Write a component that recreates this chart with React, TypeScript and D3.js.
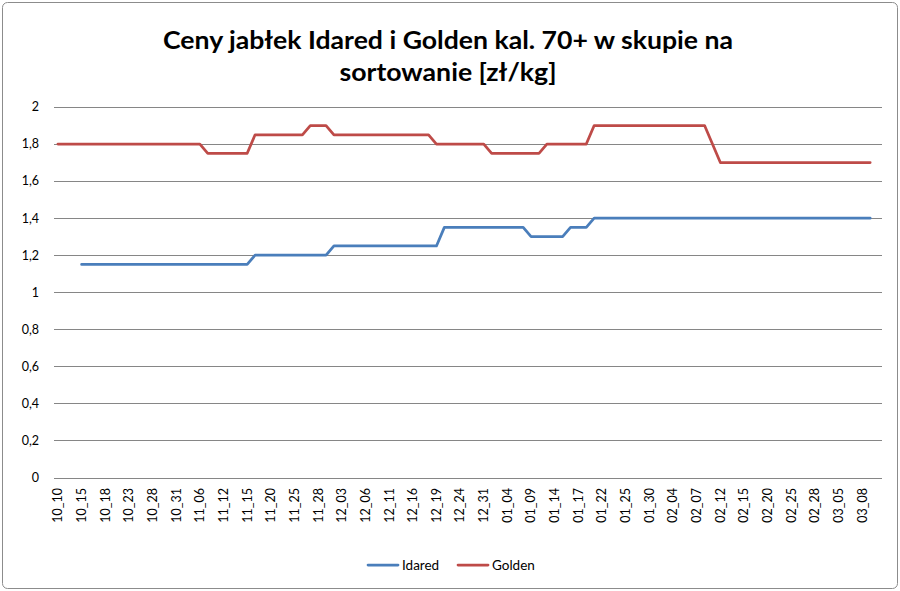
import * as d3 from 'd3';

// tick labels shown on the category axis (every 3rd category)
const tickLabels = [
  '10_10', '10_15', '10_18', '10_23', '10_28', '10_31', '11_06', '11_12', '11_15',
  '11_20', '11_25', '11_28', '12_03', '12_06', '12_11', '12_16', '12_19', '12_24',
  '12_31', '01_04', '01_09', '01_14', '01_17', '01_22', '01_25', '01_30', '02_04',
  '02_07', '02_12', '02_15', '02_20', '02_25', '02_28', '03_05', '03_08',
];
const labelStep = 3;
const categoryCount = 105;

const idared: (number | null)[] = [
  null, null, null, 1.15, 1.15, 1.15, 1.15, 1.15, 1.15, 1.15,
  1.15, 1.15, 1.15, 1.15, 1.15, 1.15, 1.15, 1.15, 1.15, 1.15,
  1.15, 1.15, 1.15, 1.15, 1.15, 1.2, 1.2, 1.2, 1.2, 1.2,
  1.2, 1.2, 1.2, 1.2, 1.2, 1.25, 1.25, 1.25, 1.25, 1.25,
  1.25, 1.25, 1.25, 1.25, 1.25, 1.25, 1.25, 1.25, 1.25, 1.35,
  1.35, 1.35, 1.35, 1.35, 1.35, 1.35, 1.35, 1.35, 1.35, 1.35,
  1.3, 1.3, 1.3, 1.3, 1.3, 1.35, 1.35, 1.35, 1.4, 1.4,
  1.4, 1.4, 1.4, 1.4, 1.4, 1.4, 1.4, 1.4, 1.4, 1.4,
  1.4, 1.4, 1.4, 1.4, 1.4, 1.4, 1.4, 1.4, 1.4, 1.4,
  1.4, 1.4, 1.4, 1.4, 1.4, 1.4, 1.4, 1.4, 1.4, 1.4,
  1.4, 1.4, 1.4, 1.4,
];

const golden: (number | null)[] = [
  1.8, 1.8, 1.8, 1.8, 1.8, 1.8, 1.8, 1.8, 1.8, 1.8,
  1.8, 1.8, 1.8, 1.8, 1.8, 1.8, 1.8, 1.8, 1.8, 1.75,
  1.75, 1.75, 1.75, 1.75, 1.75, 1.85, 1.85, 1.85, 1.85, 1.85,
  1.85, 1.85, 1.9, 1.9, 1.9, 1.85, 1.85, 1.85, 1.85, 1.85,
  1.85, 1.85, 1.85, 1.85, 1.85, 1.85, 1.85, 1.85, 1.8, 1.8,
  1.8, 1.8, 1.8, 1.8, 1.8, 1.75, 1.75, 1.75, 1.75, 1.75,
  1.75, 1.75, 1.8, 1.8, 1.8, 1.8, 1.8, 1.8, 1.9, 1.9,
  1.9, 1.9, 1.9, 1.9, 1.9, 1.9, 1.9, 1.9, 1.9, 1.9,
  1.9, 1.9, 1.9, 1.8, 1.7, 1.7, 1.7, 1.7, 1.7, 1.7,
  1.7, 1.7, 1.7, 1.7, 1.7, 1.7, 1.7, 1.7, 1.7, 1.7,
  1.7, 1.7, 1.7, 1.7,
];

const yTicks = [0, 0.2, 0.4, 0.6, 0.8, 1, 1.2, 1.4, 1.6, 1.8, 2];

const series = [
  { name: 'Idared', values: idared, color: '#4a7ebb' },
  { name: 'Golden', values: golden, color: '#be4b48' },
];

const W = 900;
const H = 591;
const font = 'Lato, "Open Sans", sans-serif';

export default function App() {
  const x = d3
    .scaleBand<number>()
    .domain(d3.range(categoryCount))
    .range([54, 882]);
  const cx = (i: number) => (x(i) ?? 0) + x.bandwidth() / 2;

  const y = d3.scaleLinear().domain([0, 2]).range([477.5, 107]);

  const line = d3
    .line<number | null>()
    .defined(d => d != null)
    .x((_, i) => cx(i))
    .y(d => y(d as number));

  const fmt = (v: number) => String(+v.toFixed(1)).replace('.', ',');

  return (
    <svg
      width={W}
      height={H}
      style={{ position: 'absolute', left: 0, top: 0, background: '#fff' }}
      fontFamily={font}
    >
      <rect x={2.5} y={2.5} width={895} height={586} rx={5} fill="#fff" stroke="#8c8c8c" />

      <text
        x={448}
        y={49}
        textAnchor="middle"
        fontSize={25}
        fontWeight="bold"
        fill="#000"
        textLength={570}
        lengthAdjust="spacingAndGlyphs"
      >
        Ceny jabłek Idared i Golden kal. 70+ w skupie na
      </text>
      <text
        x={448}
        y={81}
        textAnchor="middle"
        fontSize={25}
        fontWeight="bold"
        fill="#000"
        textLength={217}
        lengthAdjust="spacingAndGlyphs"
      >
        sortowanie [zł/kg]
      </text>

      {yTicks.map(t => (
        <g key={t}>
          <line x1={54} x2={882} y1={Math.round(y(t)) + 0.5} y2={Math.round(y(t)) + 0.5} stroke="#868686" />
          <text x={39} y={y(t)} dy="0.35em" textAnchor="end" fontSize={12.5} fill="#000">
            {fmt(t)}
          </text>
        </g>
      ))}

      {tickLabels.map((lab, k) => {
        const px = cx(k * labelStep);
        return (
          <text
            key={lab + k}
            transform={`translate(${px},488) rotate(-90)`}
            dy="0.35em"
            textAnchor="end"
            fontSize={12.5}
            fill="#000"
          >
            {lab}
          </text>
        );
      })}

      {series.map(s => (
        <path
          key={s.name}
          d={line(s.values) ?? ''}
          fill="none"
          stroke={s.color}
          strokeWidth={2.75}
          strokeLinejoin="round"
          strokeLinecap="round"
        />
      ))}

      {series.map((s, i) => {
        const lx = 368 + i * 90;
        return (
          <g key={s.name}>
            <line x1={lx} x2={lx + 30} y1={565} y2={565} stroke={s.color} strokeWidth={2.75} strokeLinecap="round" />
            <text x={lx + 34} y={565} dy="0.35em" fontSize={13.5} fill="#000">
              {s.name}
            </text>
          </g>
        );
      })}
    </svg>
  );
}
